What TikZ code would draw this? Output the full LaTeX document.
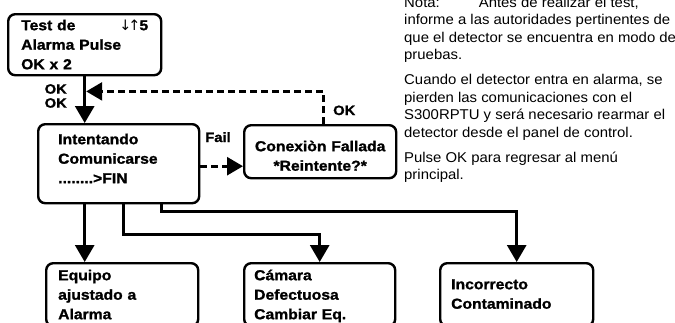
\documentclass[tikz,border=0pt]{standalone}
\usepackage{fontspec}
\setmainfont{Liberation Sans}
\newfontfamily\lcdfont{Liberation Sans}[FakeStretch=1.09, BoldFeatures={FakeBold=1.3}]
\newfontfamily\notefont{Liberation Sans}[FakeStretch=1.05]
\newfontfamily\arrowfont{DejaVu Sans}
\usetikzlibrary{arrows.meta}

\newcommand{\padtop}[1]{\rule{0pt}{#1pt}}
\newcommand{\padbot}[1]{\rule[-#1pt]{0pt}{#1pt}}

\tikzset{
  lcd/.style={draw, line width=2.4pt, rounded corners=7pt, anchor=north west,
    inner ysep=0pt, align=left, font=\lcdfont\bfseries\fontsize{14.4}{19.5}\selectfont},
  flow/.style={line width=3pt, -{Triangle[length=17pt,width=19pt]}},
  retry/.style={line width=2.6pt, dash pattern=on 7pt off 4pt, -{Triangle[length=16pt,width=18pt]}},
  lbl/.style={inner sep=0pt, font=\lcdfont\bfseries\fontsize{13.5}{14}\selectfont},
  note/.style={inner sep=0pt, align=left, font=\notefont\fontsize{14.2}{17.5}\selectfont}
}

\begin{document}
\begin{tikzpicture}[x=1pt, y=-1pt]
\useasboundingbox (0,0) rectangle (675,322);
\clip (0,0) rectangle (675,322);

% Menu screen
\node[lcd, text width=127pt, inner xsep=13pt] (test) at (7,13) {\padtop{16}Test de\hfill{\arrowfont\mdseries ↓\kern-3pt↑\kern-1pt}5\\Alarma Pulse\\OK x 2\padbot{6}};
\node[lbl, align=right, anchor=east] (okok) at (67,96) {OK\\OK};

% Communication attempt
\node[lcd, text width=121pt, inner xsep=20pt] (intent) at (37,123) {\padtop{20}Intentando\\Comunicarse\\........>FIN\padbot{20}};
\node[lcd, align=center, text width=140pt, inner xsep=6pt] (conex) at (243,124) {\padtop{26}Conexiòn Fallada\\{*}Reintente?*\padbot{7.5}};
\node[lbl, anchor=base] (faillbl) at (218,142) {Fail};
\node[lbl, anchor=base west] (oklbl) at (333,115) {OK};

% Results
\node[lcd, text width=128pt, inner xsep=12pt] (equipo) at (45,262) {\padtop{17}Equipo\\ajustado a\\Alarma\padbot{7}};
\node[lcd, text width=131pt, inner xsep=10pt] (camara) at (243,262) {\padtop{17}Cámara\\Defectuosa\\Cambiar Eq.\padbot{7}};
\node[lcd, text width=131pt, inner xsep=11pt] (incorr) at (439,262) {\padtop{26}Incorrecto\\Contaminado\padbot{17.5}};

% Note
\node[note, anchor=north west] (nota) at (404,-5) {\padtop{12}Nota:\hspace{39pt}Antes de realizar el test,\\
informe a las autoridades pertinentes de\\
que el detector se encuentra en modo de\\
pruebas.\\[7.5pt]
Cuando el detector entra en alarma, se\\
pierden las comunicaciones con el\\
S300RPTU y será necesario rearmar el\\
detector desde el panel de control.\\[7.5pt]
Pulse OK para regresar al menú\\
principal.};

% Connectors
\coordinate (okjoin) at ([yshift=-15pt, xshift=1.5pt]test.south);
\draw[flow] (test.south) -- (test.south |- intent.north);
\draw[retry] ([xshift=3pt]conex.north) |- (okjoin);
\draw[retry] ([yshift=-2.5pt]intent.east) -- ([yshift=-2.5pt]conex.west |- intent.east);
\draw[flow] (intent.south -| test.south) -- (equipo.north -| test.south);
\draw[flow] ([xshift=4.5pt]intent.south) -- ++(0,30) -| (camara.north);
\draw[flow] ([xshift=42.5pt]intent.south) -- ++(0,7) -| (incorr.north);
\end{tikzpicture}
\end{document}
